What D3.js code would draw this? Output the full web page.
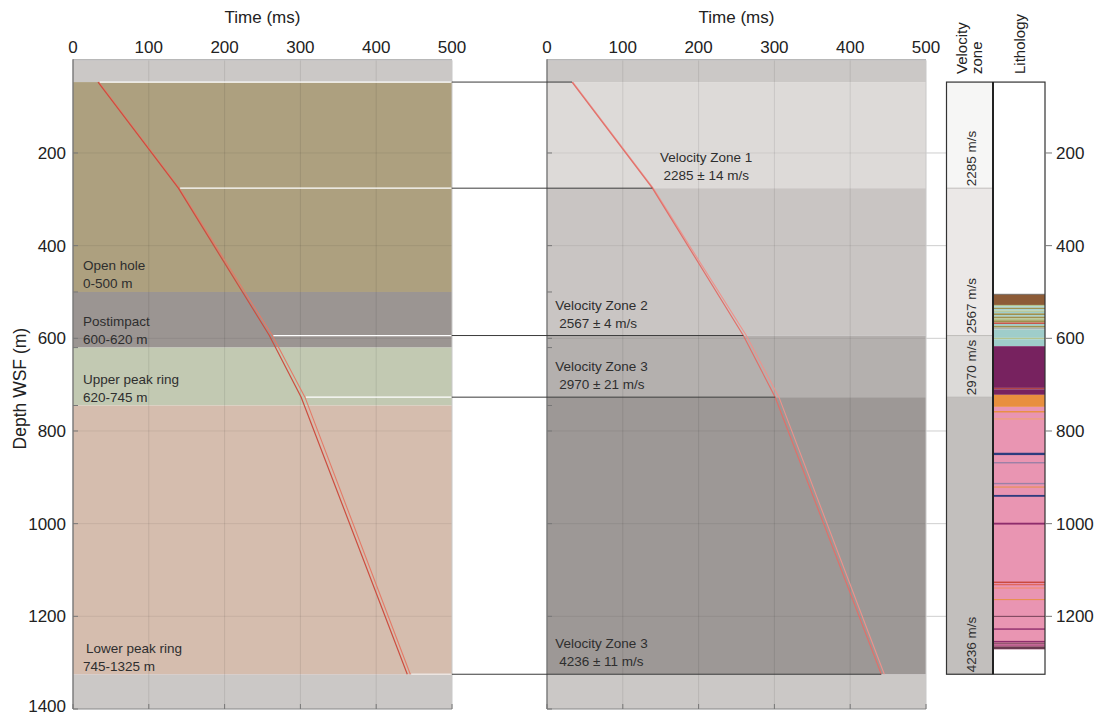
<!DOCTYPE html>
<html>
<head>
<meta charset="utf-8">
<script src="https://cdn.jsdelivr.net/npm/d3@7"></script>
<style>
  html, body { margin: 0; padding: 0; background: #fff; }
  svg { display: block; font-family: "Liberation Sans", Arial, Helvetica, sans-serif; }
</style>
</head>
<body>
<svg id="chart" width="1099" height="717"></svg>
<script>
// ---- data ----------------------------------------------------------------
const timeTicks = [0, 100, 200, 300, 400, 500];
const depthTicks = [200, 400, 600, 800, 1000, 1200, 1400];
const columnTicks = [200, 400, 600, 800, 1000, 1200];
const boundaryTicks = [500, 620, 745];

// logged interval of the borehole (m WSF)
const loggedTop = 47;
const loggedBase = 1325;

// lithostratigraphic units
const unitNames = ["Open hole", "Postimpact", "Upper peak ring", "Lower peak ring"];
const unitRanges = ["0-500 m", "600-620 m", "620-745 m", "745-1325 m"];
const unitTop = [47, 500, 620, 745];
const unitBase = [500, 620, 745, 1325];

// velocity zones from the time-depth fit
const zoneNames = ["Velocity Zone 1", "Velocity Zone 2", "Velocity Zone 3", "Velocity Zone 3"];
const zoneVelocity = [2285, 2567, 2970, 4236];
const zoneError = [14, 4, 21, 11];
const zoneTop = [47, 276, 594, 727];
const zoneBase = [276, 594, 727, 1325];

// first-break travel time picks at the zone knots (ms)
const knotDepth = [47, 276, 594, 727, 1325];
const timeLeading = [33, 139, 259, 301, 441];
const timeTrailing = [34, 140, 263, 306, 445];

// lithology log intervals
const lithTop = [505, 528, 531, 534, 537, 540, 543, 546, 550, 553, 557, 561, 566, 569, 573, 577, 581, 599, 602,
  617, 707, 710, 722, 748,
  757, 773, 847, 867, 912, 920, 938, 998, 1125, 1130, 1137, 1163, 1199, 1226, 1253, 1257, 1261, 1265];
const lithBase = [528, 531, 534, 537, 540, 543, 546, 550, 553, 557, 561, 566, 569, 573, 577, 581, 599, 602, 617,
  707, 710, 722, 748, 1271,
  760, 775, 852, 870, 915, 922, 942, 1002, 1128, 1133, 1141, 1165, 1201, 1229, 1256, 1259, 1263, 1271];
const lithUnit = ["pelagic", "marl", "suevite", "sandy", "suevite", "marl", "suevite", "sandy", "suevite", "sandy", "marl", "sandy", "redbed", "suevite", "sandy", "grayish", "suevite", "marl", "suevite",
  "melt", "meltVein", "melt", "dike", "granite",
  "dike", "dikeLight", "dolerite", "felsite", "felsite", "dike", "dolerite", "purpleVein", "redbed", "salmon", "salmonLight", "dike", "darkVein", "purpleVein", "purpleVein", "darkVein", "purpleVein", "darkVein"];

// ---- styles ---------------------------------------------------------------
const unitColor = d3.scaleOrdinal(unitNames, ["#ada07f", "#9b9592", "#c2c9b2", "#d5bdae"]);
const zoneFillPanel = ["#dddad8", "#c9c5c3", "#b4b0ae", "#9d9896"];
const zoneFillColumn = ["#f6f6f5", "#ebe8e7", "#dcdad8", "#c2bfbd"];
const lithColor = d3.scaleOrdinal(
  ["pelagic", "marl", "suevite", "sandy", "redbed", "grayish", "melt", "meltVein", "dike", "dikeLight", "granite",
   "dolerite", "felsite", "purpleVein", "salmon", "salmonLight", "darkVein"],
  ["#8c5b37", "#b3c48f", "#9fcdca", "#9d914f", "#c9473c", "#a9b6b4", "#77225f", "#b04446", "#e88f3e", "#efa566", "#e995b2",
   "#2e3c7e", "#9b80a6", "#8e2d6c", "#e0675c", "#ef8f88", "#6a3a50"]);
const nullColor = "#cbc8c6";

// ---- scales ---------------------------------------------------------------
const svg = d3.select("#chart");
const y = d3.scaleLinear().domain([0, 1400]).range([60.3, 709]);
const xL = d3.scaleLinear().domain([0, 500]).range([73, 452]);
const xR = d3.scaleLinear().domain([0, 500]).range([547, 926]);

const knots = knotDepth.map((d, i) => ({ depth: d, lead: timeLeading[i], trail: timeTrailing[i] }));

function drawPanel(x, bands, lineColors) {
  const g = svg.append("g");
  const [x0, x1] = x.range();
  // no-data caps above and below the logged interval
  g.append("rect").attr("x", x0).attr("width", x1 - x0)
    .attr("y", y(0)).attr("height", y(loggedTop) - y(0)).attr("fill", nullColor);
  g.append("rect").attr("x", x0).attr("width", x1 - x0)
    .attr("y", y(loggedBase)).attr("height", y(1400) - y(loggedBase)).attr("fill", nullColor);
  g.selectAll("rect.band").data(bands).join("rect").attr("class", "band")
    .attr("x", x0).attr("width", x1 - x0)
    .attr("y", d => y(d.top)).attr("height", d => y(d.base) - y(d.top))
    .attr("fill", d => d.fill);
  // grid
  g.selectAll("line.vgrid").data(timeTicks.slice(1, -1)).join("line").attr("class", "vgrid")
    .attr("x1", d => x(d)).attr("x2", d => x(d)).attr("y1", y(0)).attr("y2", y(1400))
    .attr("stroke", "#000").attr("stroke-opacity", 0.09);
  g.selectAll("line.hgrid").data(depthTicks.slice(0, -1)).join("line").attr("class", "hgrid")
    .attr("x1", x0).attr("x2", x1).attr("y1", d => y(d)).attr("y2", d => y(d))
    .attr("stroke", "#000").attr("stroke-opacity", 0.07);
  // frame
  g.append("line").attr("x1", x0).attr("x2", x1).attr("y1", y(0) - 0.5).attr("y2", y(0) - 0.5)
    .attr("stroke", "#9a9a9a");
  g.append("line").attr("x1", x1).attr("x2", x1).attr("y1", y(0)).attr("y2", y(1400))
    .attr("stroke", "#c8c8c8");
  g.append("line").attr("x1", x0).attr("x2", x1).attr("y1", y(1400)).attr("y2", y(1400))
    .attr("stroke", "#888").attr("stroke-width", 1.2);
  g.append("line").attr("x1", x0).attr("x2", x0).attr("y1", y(0) - 1).attr("y2", y(1400))
    .attr("stroke", "#777").attr("stroke-width", 1.4);
  g.selectAll("line.btick").data(timeTicks).join("line").attr("class", "btick")
    .attr("x1", d => x(d)).attr("x2", d => x(d)).attr("y1", y(1400)).attr("y2", y(1400) - 5)
    .attr("stroke", "#777");
  g.selectAll("line.ltick").data(depthTicks.concat(boundaryTicks)).join("line").attr("class", "ltick")
    .attr("x1", x0).attr("x2", x0 + 5).attr("y1", d => y(d)).attr("y2", d => y(d))
    .attr("stroke", "#777");
  // top axis labels
  g.selectAll("text.tlab").data(timeTicks).join("text").attr("class", "tlab")
    .attr("x", d => x(d)).attr("y", 53).attr("text-anchor", "middle")
    .attr("font-size", 17).attr("fill", "#222").text(d => d);
  g.append("text").attr("x", (x0 + x1) / 2).attr("y", 23).attr("text-anchor", "middle")
    .attr("font-size", 17).attr("fill", "#222").text("Time (ms)");
  // time-depth curves
  const lineLead = d3.line().x(d => x(d.lead)).y(d => y(d.depth));
  const lineTrail = d3.line().x(d => x(d.trail)).y(d => y(d.depth));
  const curves = svg.append("g").attr("class", "curves");
  curves.append("path").datum(knots).attr("d", lineTrail).attr("fill", "none")
    .attr("stroke", lineColors[1]).attr("stroke-width", 1.1);
  curves.append("path").datum(knots).attr("d", lineLead).attr("fill", "none")
    .attr("stroke", lineColors[0]).attr("stroke-width", 1.2);
  return g;
}

// left panel: lithostratigraphic units
const unitBands = unitNames.map((n, i) => ({ top: unitTop[i], base: unitBase[i], fill: unitColor(n) }));
drawPanel(xL, unitBands, ["#cc4e40", "#e47b68"]);

// right panel: velocity zones
const zoneBands = zoneNames.map((n, i) => ({ top: zoneTop[i], base: zoneBase[i], fill: zoneFillPanel[i] }));
drawPanel(xR, zoneBands, ["#e0706a", "#ee928c"]);

// knot tie lines: white inside the left panel, black across to the right panel
svg.append("g").selectAll("line").data(knots).join("line")
  .attr("x1", d => xL(d.trail) + 1).attr("x2", xL(500) - 1)
  .attr("y1", d => y(d.depth)).attr("y2", d => y(d.depth))
  .attr("stroke", (d, i) => i === knots.length - 1 ? "#ece5e1" : "#ffffff").attr("stroke-width", 1.3);
svg.append("g").selectAll("line").data(knots).join("line")
  .attr("x1", xL(500)).attr("x2", d => xR(d.lead))
  .attr("y1", d => y(d.depth)).attr("y2", d => y(d.depth))
  .attr("stroke", "#3a3a3a").attr("stroke-width", 1);

// unit labels in the left panel
const unitLabels = svg.append("g").attr("font-size", 13.5).attr("fill", "#2e2e2e");
unitNames.forEach((n, i) => {
  const yb = y(unitBase[i]) - 3.5;
  unitLabels.append("text").attr("x", xL(0) + 10 + (i === 3 ? 3 : 0)).attr("y", yb - 18).text(n);
  unitLabels.append("text").attr("x", xL(0) + 10).attr("y", yb).text(unitRanges[i]);
});

// zone labels in the right panel
const zoneLabels = svg.append("g").attr("font-size", 13.5).attr("fill", "#2e2e2e");
zoneNames.forEach((n, i) => {
  const yb = y(zoneBase[i]) - 8;
  const txt = `${zoneVelocity[i]} \u00b1 ${zoneError[i]} m/s`;
  if (i === 0) {
    zoneLabels.append("text").attr("x", xR(210)).attr("y", yb - 18).attr("text-anchor", "middle").text(n);
    zoneLabels.append("text").attr("x", xR(210)).attr("y", yb).attr("text-anchor", "middle").text(txt);
  } else {
    zoneLabels.append("text").attr("x", xR(11)).attr("y", yb - 18).text(n);
    zoneLabels.append("text").attr("x", xR(16)).attr("y", yb).text(txt);
  }
});

// depth axis title and labels
svg.append("text").attr("transform", `translate(26,${(y(0) + y(1400)) / 2 + 4}) rotate(-90)`)
  .attr("text-anchor", "middle").attr("font-size", 17.5).attr("fill", "#222").text("Depth WSF (m)");
svg.append("g").selectAll("text").data(depthTicks).join("text")
  .attr("x", 66).attr("y", d => Math.min(y(d), 706)).attr("dy", "0.36em").attr("text-anchor", "end")
  .attr("font-size", 17).attr("fill", "#222").text(d => d);

// ---- velocity zone and lithology columns ---------------------------------
const cV0 = 946.5, cV1 = 993, cL1 = 1045;
const col = svg.append("g");
col.selectAll("line.cgrid").data(columnTicks).join("line").attr("class", "cgrid")
  .attr("x1", xR(500)).attr("x2", cV0).attr("y1", d => y(d)).attr("y2", d => y(d))
  .attr("stroke", "#cfcfcf");
col.selectAll("rect.vz").data(zoneNames).join("rect").attr("class", "vz")
  .attr("x", cV0).attr("width", cV1 - cV0)
  .attr("y", (d, i) => y(zoneTop[i])).attr("height", (d, i) => y(zoneBase[i]) - y(zoneTop[i]))
  .attr("fill", (d, i) => zoneFillColumn[i]);
col.selectAll("line.vzb").data(zoneBase.slice(0, -1)).join("line").attr("class", "vzb")
  .attr("x1", cV0).attr("x2", cV1).attr("y1", d => y(d)).attr("y2", d => y(d))
  .attr("stroke", "#b5b2b0").attr("stroke-width", 0.8);
col.selectAll("text.vzl").data(zoneVelocity).join("text").attr("class", "vzl")
  .attr("transform", (d, i) => `translate(${971},${y(zoneBase[i]) - 2}) rotate(-90)`)
  .attr("dy", "0.35em").attr("font-size", 13.5).attr("fill", "#2e2e2e").text(d => `${d} m/s`);

col.append("rect").attr("x", cV1).attr("width", cL1 - cV1)
  .attr("y", y(loggedTop)).attr("height", y(loggedBase) - y(loggedTop)).attr("fill", "#fff");
col.selectAll("rect.lith").data(lithUnit).join("rect").attr("class", "lith")
  .attr("x", cV1).attr("width", cL1 - cV1)
  .attr("y", (d, i) => y(lithTop[i])).attr("height", (d, i) => Math.max(0.8, y(lithBase[i]) - y(lithTop[i])))
  .attr("fill", d => lithColor(d));
col.append("line").attr("x1", cV1).attr("x2", cL1).attr("y1", y(lithTop[0])).attr("y2", y(lithTop[0]))
  .attr("stroke", "#666").attr("stroke-width", 0.8);

col.append("rect").attr("x", cV0).attr("y", y(loggedTop)).attr("width", cL1 - cV0)
  .attr("height", y(loggedBase) - y(loggedTop)).attr("fill", "none")
  .attr("stroke", "#333").attr("stroke-width", 1.2);
col.append("line").attr("x1", cV1).attr("x2", cV1).attr("y1", y(loggedTop)).attr("y2", y(loggedBase))
  .attr("stroke", "#222").attr("stroke-width", 2);

col.selectAll("line.rt").data(columnTicks).join("line").attr("class", "rt")
  .attr("x1", cL1).attr("x2", cL1 + 7).attr("y1", d => y(d)).attr("y2", d => y(d))
  .attr("stroke", "#777");
col.selectAll("text.rl").data(columnTicks).join("text").attr("class", "rl")
  .attr("x", cL1 + 11).attr("y", d => y(d)).attr("dy", "0.36em")
  .attr("font-size", 17).attr("fill", "#222").text(d => d);

// column headers
const heads = [["Velocity", 962], ["zone", 977], ["Lithology", 1020]];
col.selectAll("text.hd").data(heads).join("text").attr("class", "hd")
  .attr("transform", d => `translate(${d[1]},74) rotate(-90)`)
  .attr("dy", "0.35em").attr("font-size", 15).attr("fill", "#222").text(d => d[0]);
</script>
</body>
</html>
